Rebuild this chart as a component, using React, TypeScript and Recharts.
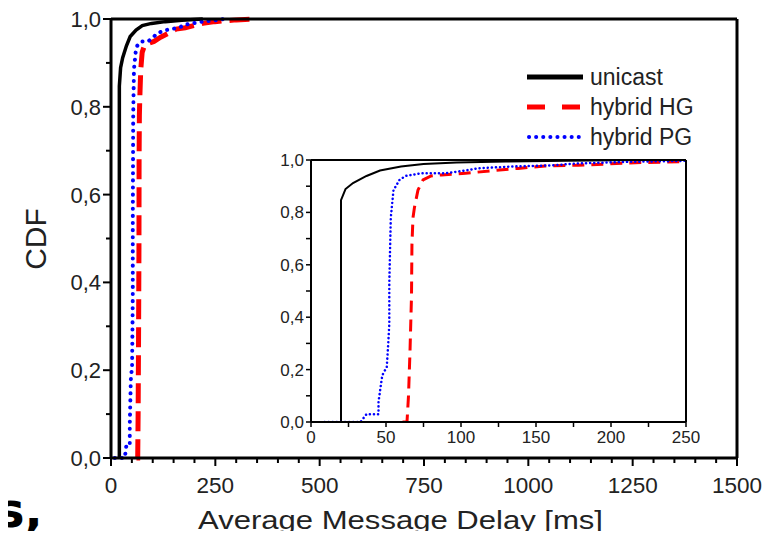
import React from 'react'
import { LineChart, Line, XAxis, YAxis, Legend } from 'recharts'

// CDF of average message delay
const seriesNames = ['unicast', 'hybrid HG', 'hybrid PG']

const unicastDelay = [20, 20, 23, 28, 37, 46, 60, 75, 97, 130, 170, 220]
const unicastCdf = [0, 0.847, 0.889, 0.912, 0.939, 0.96, 0.975, 0.985, 0.99, 0.994, 0.997, 1.0]

const hgDelay = [61, 64, 65, 66, 67, 67.3, 68, 69, 71.3, 74.7, 80, 87, 103, 120, 138, 156, 178, 198, 220, 249, 300, 350]
const hgCdf = [0, 0, 0.1, 0.27, 0.48, 0.68, 0.78, 0.82, 0.885, 0.924, 0.939, 0.943, 0.949, 0.959, 0.968, 0.977, 0.98, 0.985, 0.99, 0.994, 0.998, 1.0]

const pgDelay = [9, 33, 37, 45, 45, 47.5, 50.5, 51.5, 52.2, 52.2, 53.2, 55, 59, 63, 73, 89, 102, 111, 133, 162, 178, 211, 251, 270]
const pgCdf = [0, 0, 0.03, 0.03, 0.077, 0.178, 0.21, 0.3, 0.376, 0.53, 0.78, 0.885, 0.924, 0.939, 0.949, 0.949, 0.959, 0.968, 0.975, 0.98, 0.987, 0.993, 0.997, 1.0]

const mainXTicks = [
  0, 50, 100, 150, 200, 250, 300, 350, 400, 450, 500, 550, 600, 650, 700, 750,
  800, 850, 900, 950, 1000, 1050, 1100, 1150, 1200, 1250, 1300, 1350, 1400, 1450, 1500
]
const insetXTicks = [0, 25, 50, 75, 100, 125, 150, 175, 200, 225, 250]
const yTicks = [0, 0.1, 0.2, 0.3, 0.4, 0.5, 0.6, 0.7, 0.8, 0.9, 1.0]

const toPoints = (xs: number[], ys: number[]) => xs.map((x, i) => ({ x, y: ys[i] }))
const unicastData = toPoints(unicastDelay, unicastCdf)
const hgData = toPoints(hgDelay, hgCdf)
const pgData = toPoints(pgDelay, pgCdf)

const FONT = '"Liberation Sans", Arial, sans-serif'
const TEXT = '#222'
const fmt = (v: number) => v.toFixed(1).replace('.', ',')
const isEvenTenth = (v: number) => Math.round(v * 10) % 2 === 0

// main chart ticks
const MainBottomTick = ({ x, y, payload }: any) => {
  const major = payload.value % 250 === 0
  return (
    <g>
      <line x1={x} y1={y} x2={x} y2={y + (major ? 8 : 5)} stroke="#000" strokeWidth={2} />
      {major && (
        <text x={x} y={y + 35} textAnchor="middle" fontSize={22.5} fontFamily={FONT} fill={TEXT}>
          {payload.value}
        </text>
      )}
    </g>
  )
}

const MainTopTick = ({ x, y, payload }: any) => {
  const major = payload.value % 250 === 0
  return <line x1={x} y1={y} x2={x} y2={y + (major ? 8 : 5)} stroke="#000" strokeWidth={2} />
}

const MainLeftTick = ({ x, y, payload }: any) => {
  const major = isEvenTenth(payload.value)
  return (
    <g>
      <line x1={x - (major ? 8 : 5)} y1={y} x2={x} y2={y} stroke="#000" strokeWidth={2} />
      {major && (
        <text x={x - 10} y={y + 8} textAnchor="end" fontSize={22} fontFamily={FONT} fill={TEXT}>
          {fmt(payload.value)}
        </text>
      )}
    </g>
  )
}

const MainRightTick = ({ x, y, payload }: any) => {
  const major = isEvenTenth(payload.value)
  return <line x1={x - (major ? 8 : 5)} y1={y} x2={x} y2={y} stroke="#000" strokeWidth={2} />
}

// inset ticks
const InsetBottomTick = ({ x, y, payload }: any) => (
  <g>
    <line x1={x} y1={y} x2={x} y2={y + 5} stroke="#000" strokeWidth={1.5} />
    {payload.value % 50 === 0 && (
      <text x={x} y={y + 21} textAnchor="middle" fontSize={17} fontFamily={FONT} fill={TEXT}>
        {payload.value}
      </text>
    )}
  </g>
)

const InsetTopTick = ({ x, y }: any) => (
  <line x1={x} y1={y} x2={x} y2={y + 5} stroke="#000" strokeWidth={1.5} />
)

const InsetLeftTick = ({ x, y, payload }: any) => (
  <g>
    <line x1={x - 5} y1={y} x2={x} y2={y} stroke="#000" strokeWidth={1.5} />
    {isEvenTenth(payload.value) && (
      <text x={x - 7} y={y + 6} textAnchor="end" fontSize={17} fontFamily={FONT} fill={TEXT}>
        {fmt(payload.value)}
      </text>
    )}
  </g>
)

const InsetRightTick = ({ x, y }: any) => (
  <line x1={x - 5} y1={y} x2={x} y2={y} stroke="#000" strokeWidth={1.5} />
)

const renderLegend = () => (
  <svg width={220} height={90}>
    <line x1={7} y1={15} x2={63} y2={15} stroke="#000" strokeWidth={5} />
    <line x1={7} y1={45} x2={63} y2={45} stroke="#ff0000" strokeWidth={5} strokeDasharray="18 17" />
    <line x1={9} y1={75} x2={63} y2={75} stroke="#0000ff" strokeWidth={4} strokeDasharray="0.1 7" strokeLinecap="round" />
    {seriesNames.map((name, i) => (
      <text key={name} x={70} y={15 + i * 30 + 8} fontSize={23} fontFamily={FONT} fill={TEXT}>
        {name}
      </text>
    ))}
  </svg>
)

const axisLine = (w: number) => ({ stroke: '#000', strokeWidth: w })

export default function App() {
  return (
    <div style={{ position: 'relative', width: 773, height: 539, margin: -8, background: '#fff', overflow: 'hidden' }}>
      <LineChart width={773} height={539} margin={{ top: 0, right: 0, bottom: 0, left: 0 }}>
        <XAxis
          type="number"
          dataKey="x"
          domain={[0, 1500]}
          ticks={mainXTicks}
          interval={0}
          height={81}
          tickSize={0}
          tickMargin={0}
          tickLine={false}
          axisLine={axisLine(3)}
          tick={<MainBottomTick />}
        />
        <XAxis
          xAxisId="top"
          orientation="top"
          type="number"
          dataKey="x"
          domain={[0, 1500]}
          ticks={mainXTicks}
          interval={0}
          height={19}
          tickSize={0}
          tickMargin={0}
          tickLine={false}
          axisLine={axisLine(3)}
          tick={<MainTopTick />}
        />
        <YAxis
          type="number"
          domain={[0, 1]}
          ticks={yTicks}
          interval={0}
          width={111}
          tickSize={0}
          tickMargin={0}
          tickLine={false}
          axisLine={axisLine(3)}
          tick={<MainLeftTick />}
        />
        <YAxis
          yAxisId="right"
          orientation="right"
          type="number"
          domain={[0, 1]}
          ticks={yTicks}
          interval={0}
          width={36}
          tickSize={0}
          tickMargin={0}
          tickLine={false}
          axisLine={axisLine(3)}
          tick={<MainRightTick />}
        />
        <Line data={unicastData} dataKey="y" name={seriesNames[0]} type="linear" stroke="#000" strokeWidth={3.5} dot={false} isAnimationActive={false} />
        <Line data={hgData} dataKey="y" name={seriesNames[1]} type="linear" stroke="#ff0000" strokeWidth={5} strokeDasharray="20 8" dot={false} isAnimationActive={false} />
        <Line data={pgData} dataKey="y" name={seriesNames[2]} type="linear" stroke="#0000ff" strokeWidth={4} strokeDasharray="0.1 7" strokeLinecap="round" dot={false} isAnimationActive={false} />
        <Legend
          layout="horizontal"
          align="center"
          verticalAlign="middle"
          content={renderLegend}
          wrapperStyle={{ left: 520, top: 62, width: 220, height: 90 }}
        />
      </LineChart>

      {/* inset: zoom on 0-250 ms */}
      <div style={{ position: 'absolute', left: 260, top: 150 }}>
        <LineChart width={440} height={310} margin={{ top: 0, right: 0, bottom: 0, left: 0 }}>
          <XAxis
            type="number"
            dataKey="x"
            domain={[0, 250]}
            allowDataOverflow
            ticks={insetXTicks}
            interval={0}
            height={38}
            tickSize={0}
            tickMargin={0}
            tickLine={false}
            axisLine={axisLine(2)}
            tick={<InsetBottomTick />}
          />
          <XAxis
            xAxisId="top"
            orientation="top"
            type="number"
            dataKey="x"
            domain={[0, 250]}
            ticks={insetXTicks}
            interval={0}
            height={10}
            tickSize={0}
            tickMargin={0}
            tickLine={false}
            axisLine={axisLine(2)}
            tick={<InsetTopTick />}
          />
          <YAxis
            type="number"
            domain={[0, 1]}
            allowDataOverflow
            ticks={yTicks}
            interval={0}
            width={51}
            tickSize={0}
            tickMargin={0}
            tickLine={false}
            axisLine={axisLine(2)}
            tick={<InsetLeftTick />}
          />
          <YAxis
            yAxisId="right"
            orientation="right"
            type="number"
            domain={[0, 1]}
            ticks={yTicks}
            interval={0}
            width={14}
            tickSize={0}
            tickMargin={0}
            tickLine={false}
            axisLine={axisLine(2)}
            tick={<InsetRightTick />}
          />
          <Line data={unicastData} dataKey="y" type="linear" stroke="#000" strokeWidth={2} dot={false} isAnimationActive={false} />
          <Line data={hgData} dataKey="y" type="linear" stroke="#ff0000" strokeWidth={3} strokeDasharray="12 7" dot={false} isAnimationActive={false} />
          <Line data={pgData} dataKey="y" type="linear" stroke="#0000ff" strokeWidth={2.5} strokeDasharray="0.1 4" strokeLinecap="round" dot={false} isAnimationActive={false} />
        </LineChart>
      </div>

      {/* axis titles and the cut-off caption fragment */}
      <svg width={773} height={539} style={{ position: 'absolute', left: 0, top: 0, pointerEvents: 'none' }}>
        <text x={46} y={239} transform="rotate(-90 46 239)" textAnchor="middle" fontSize={30} fontFamily={FONT} fill={TEXT}>
          CDF
        </text>
        <text x={198} y={529} textLength={405} lengthAdjust="spacingAndGlyphs" fontSize={26} fontFamily={FONT} fill={TEXT}>
          Average Message Delay [ms]
        </text>
        <text x={-4} y={527} fontSize={48} fontWeight="bold" fontFamily='"DejaVu Sans", Verdana, sans-serif' fill="#000">
          s,
        </text>
      </svg>
    </div>
  )
}
